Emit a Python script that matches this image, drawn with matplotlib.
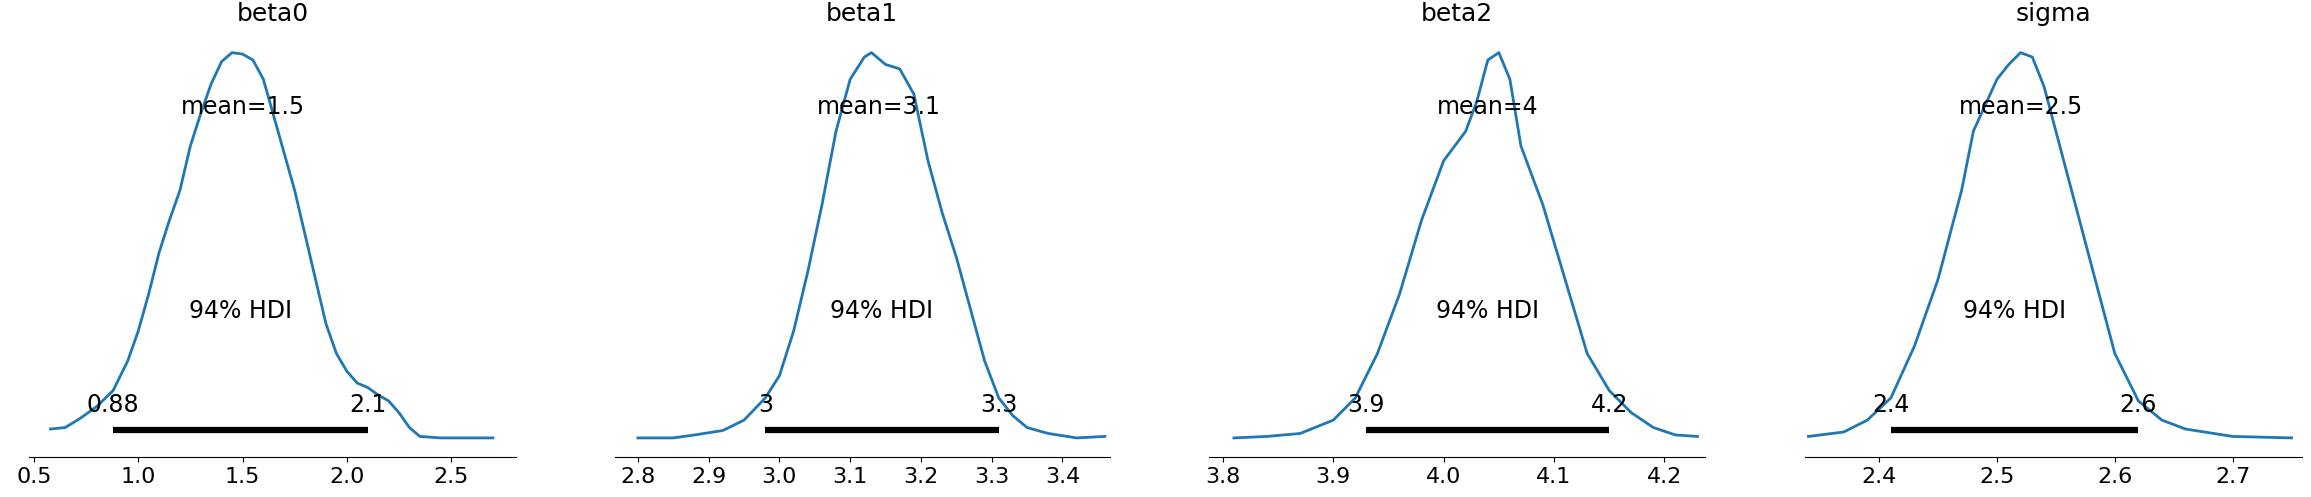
import matplotlib
matplotlib.use("Agg")
import matplotlib.pyplot as plt
import numpy as np

titles = ["beta0", "beta1", "beta2", "sigma"]
means = ["1.5", "3.1", "4", "2.5"]
hdi_lo = [0.88, 2.98, 3.93, 2.41]
hdi_hi = [2.1, 3.31, 4.15, 2.62]
hdi_lo_lbl = ["0.88", "3", "3.9", "2.4"]
hdi_hi_lbl = ["2.1", "3.3", "4.2", "2.6"]
mean_x = [1.5, 3.14, 4.04, 2.52]

x0 = [0.58,0.65,0.72,0.8,0.88,0.95,1.0,1.05,1.1,1.15,1.2,1.25,1.3,1.35,1.4,1.45,1.5,1.55,1.6,1.65,1.7,1.75,1.8,1.85,1.9,1.95,2.0,2.05,2.1,2.15,2.2,2.25,2.3,2.35,2.45,2.7]
p0 = [291,290,284,276,265,245,225,200,172,150,130,100,78,58,43,37,38,42,55,80,105,130,160,190,220,240,252,260,263,268,272,280,290,296,297,297]
x1 = [2.8,2.85,2.88,2.92,2.95,2.98,3.0,3.02,3.04,3.06,3.08,3.1,3.12,3.13,3.15,3.17,3.19,3.21,3.23,3.25,3.27,3.29,3.31,3.33,3.35,3.38,3.42,3.46]
p1 = [297,297,295,292,285,270,255,225,185,140,90,55,40,37,45,48,65,110,145,175,210,245,270,282,290,294,297,296]
x2 = [3.81,3.84,3.87,3.9,3.92,3.94,3.96,3.98,4.0,4.02,4.03,4.04,4.05,4.06,4.07,4.09,4.11,4.13,4.15,4.17,4.19,4.21,4.23]
p2 = [297,296,294,285,270,240,200,150,110,90,70,42,37,55,100,140,190,240,265,280,290,295,296]
x3 = [2.34,2.37,2.39,2.41,2.43,2.45,2.47,2.48,2.50,2.51,2.52,2.53,2.54,2.56,2.58,2.60,2.62,2.64,2.66,2.70,2.75]
p3 = [296,293,285,270,235,190,130,90,55,45,37,40,60,120,180,240,272,285,291,296,297]

xs = [x0, x1, x2, x3]
ys = [p0, p1, p2, p3]
xlims = [(0.479, 2.81), (2.767, 3.467), (3.787, 4.237), (2.3375, 2.759)]
ticks = [[0.5,1.0,1.5,2.0,2.5],[2.8,2.9,3.0,3.1,3.2,3.3,3.4],[3.8,3.9,4.0,4.1,4.2],[2.4,2.5,2.6,2.7]]
lefts = [20, 417, 820, 1225]
rights = [350, 753, 1157, 1562]

W, H = 1568, 337
fig = plt.figure(figsize=(23.11, 4.97), dpi=100)
for i in range(4):
    ax = fig.add_axes([lefts[i]/W, 1-310/H, (rights[i]-lefts[i])/W, 290/H])
    d = (297 - np.array(ys[i])) / 260.0
    ax.plot(xs[i], d, color="#1f77b4", lw=2)
    ax.plot([hdi_lo[i], hdi_hi[i]], [0.02, 0.02], color="k", lw=4.5, solid_capstyle="butt")
    ax.text(hdi_lo[i], 0.085, hdi_lo_lbl[i], ha="center", va="center", fontsize=17)
    ax.text(hdi_hi[i], 0.085, hdi_hi_lbl[i], ha="center", va="center", fontsize=17)
    ax.text((hdi_lo[i]+hdi_hi[i])/2, 0.33, "94% HDI", ha="center", va="center", fontsize=17)
    ax.text(mean_x[i], 0.86, "mean=" + means[i], ha="center", va="center", fontsize=17)
    ax.set_title(titles[i], fontsize=18)
    ax.set_xlim(*xlims[i])
    ax.set_ylim(-0.05, 1.06)
    ax.set_xticks(ticks[i])
    ax.set_xticklabels([f"{t:.1f}" for t in ticks[i]])
    ax.set_yticks([])
    for s in ["left", "right", "top"]:
        ax.spines[s].set_visible(False)
    ax.tick_params(axis="x", labelsize=16)
fig.savefig("out.png", dpi=100)
